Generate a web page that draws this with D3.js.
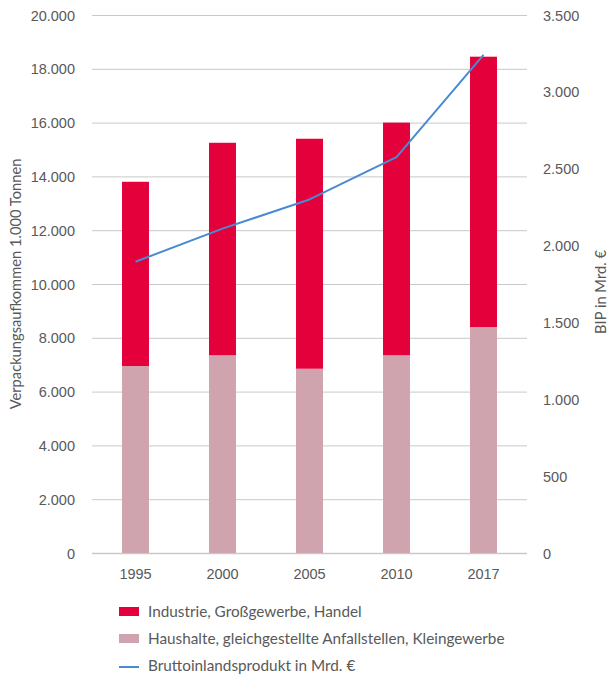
<!DOCTYPE html>
<html>
<head>
<meta charset="utf-8">
<script src="https://cdn.jsdelivr.net/npm/d3@7"></script>
<style>
  html, body { margin: 0; padding: 0; background: #fff; }
  svg { display: block; font-family: "Source Sans Pro", Lato, "Open Sans", sans-serif; }
</style>
</head>
<body>
<svg id="chart" width="616" height="674"></svg>
<script>
// Packaging waste in Germany (1.000 t) by origin, with GDP (Mrd. €)
const years = ["1995", "2000", "2005", "2010", "2017"];
const haushalte = [6950, 7350, 6850, 7350, 8400];
const industrie = [6850, 7900, 8550, 8650, 10050];
const bip = [1895, 2110, 2300, 2575, 3240];

const leftTicks = [0, 2000, 4000, 6000, 8000, 10000, 12000, 14000, 16000, 18000, 20000];
const rightTicks = [0, 500, 1000, 1500, 2000, 2500, 3000, 3500];

const legendLabels = [
  "Industrie, Großgewerbe, Handel",
  "Haushalte, gleichgestellte Anfallstellen, Kleingewerbe",
  "Bruttoinlandsprodukt in Mrd. €"
];

const colors = { industrie: "#E4003B", haushalte: "#D0A4AE", bip: "#4A8AD2", grid: "#C9C9C9", text: "#595959" };

const svg = d3.select("#chart");
const plotL = 92, plotR = 527, plotT = 15, plotB = 553;

const x = d3.scaleBand().domain(years).range([plotL, plotR]).paddingInner(0.69).paddingOuter(0.345);
const y = d3.scaleLinear().domain([0, 20000]).range([plotB, plotT]);
const y2 = d3.scaleLinear().domain([0, 3500]).range([plotB, plotT]);

const fmt = d3.formatLocale({ decimal: ",", thousands: ".", grouping: [3], currency: ["", " €"] }).format(",d");

// gridlines
svg.append("g")
  .selectAll("line").data(leftTicks).join("line")
  .attr("x1", plotL).attr("x2", plotR)
  .attr("y1", d => y(d) + 0.5).attr("y2", d => y(d) + 0.5)
  .attr("stroke", colors.grid).attr("stroke-width", d => d === 0 ? 1.5 : 1);

// left axis labels
const axL = svg.append("g").attr("transform", `translate(${plotL - 17},0)`)
  .call(d3.axisLeft(y).tickValues(leftTicks).tickFormat(fmt).tickSize(0).tickPadding(0));
axL.select(".domain").remove();
axL.selectAll("text").attr("fill", colors.text).style("font-size", "14.5px").attr("dy", "0.35em");

// right axis labels
const axR = svg.append("g").attr("transform", `translate(${plotR + 16},0)`)
  .call(d3.axisRight(y2).tickValues(rightTicks).tickFormat(fmt).tickSize(0).tickPadding(0));
axR.select(".domain").remove();
axR.selectAll("text").attr("fill", colors.text).style("font-size", "14.5px").attr("dy", "0.35em");

// x axis labels
const axX = svg.append("g").attr("transform", `translate(0,${plotB + 16})`)
  .call(d3.axisBottom(x).tickSize(0).tickPadding(0));
axX.select(".domain").remove();
axX.selectAll("text").attr("fill", colors.text).style("font-size", "14.5px").attr("dy", "0.71em");

// stacked bars
const rows = years.map((yr, i) => ({ year: yr, haushalte: haushalte[i], industrie: industrie[i] }));
const stack = d3.stack().keys(["haushalte", "industrie"])(rows);
svg.append("g").selectAll("g").data(stack).join("g")
  .attr("fill", d => colors[d.key])
  .selectAll("rect").data(d => d).join("rect")
  .attr("x", d => x(d.data.year))
  .attr("width", x.bandwidth())
  .attr("y", d => y(d[1]))
  .attr("height", d => y(d[0]) - y(d[1]));

// GDP line
const line = d3.line().x((d, i) => x(years[i]) + x.bandwidth() / 2).y(d => y2(d));
svg.append("path").datum(bip)
  .attr("d", line).attr("fill", "none")
  .attr("stroke", colors.bip).attr("stroke-width", 2).attr("stroke-linejoin", "round");

// axis titles
svg.append("text")
  .attr("transform", `translate(21,${(plotT + plotB) / 2}) rotate(-90)`)
  .attr("text-anchor", "middle").attr("fill", colors.text).style("font-size", "14.7px")
  .text("Verpackungsaufkommen 1.000 Tonnen");
svg.append("text")
  .attr("transform", `translate(606,${(plotT + plotB) / 2 + 8}) rotate(-90)`)
  .attr("text-anchor", "middle").attr("fill", colors.text).style("font-size", "14.7px")
  .text("BIP in Mrd. €");

// legend
const lg = svg.append("g");
const lgY = [612, 639, 666];
lg.append("rect").attr("x", 119).attr("y", lgY[0] - 5).attr("width", 20).attr("height", 9).attr("fill", colors.industrie);
lg.append("rect").attr("x", 119).attr("y", lgY[1] - 5).attr("width", 20).attr("height", 9).attr("fill", colors.haushalte);
lg.append("line").attr("x1", 119).attr("x2", 139).attr("y1", lgY[2] + 1).attr("y2", lgY[2] + 1)
  .attr("stroke", colors.bip).attr("stroke-width", 2);
lg.selectAll("text").data(legendLabels).join("text")
  .attr("x", 148).attr("y", (d, i) => lgY[i]).attr("dy", "0.35em")
  .attr("fill", colors.text).style("font-size", "15.3px")
  .text(d => d);
</script>
</body>
</html>
